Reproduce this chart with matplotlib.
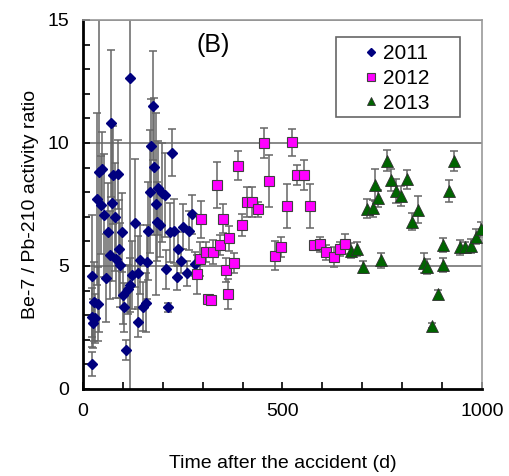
import matplotlib.pyplot as plt
from matplotlib.patches import Rectangle
import numpy as np

plt.rcParams['font.family'] = ['Liberation Sans', 'DejaVu Sans']

# 2011 data (days after accident, ratio, error)
x2011 = [22, 22, 22, 24, 28, 30, 34, 38, 41, 44, 48, 53, 58, 63, 68, 69, 74, 76, 80, 83,
         89, 91, 94, 98, 101, 104, 109, 112, 118, 118, 122, 130, 137, 139, 143, 150, 158, 160, 164, 168,
         170, 175, 178, 183, 186, 189, 193, 197, 206, 207, 214, 218, 223, 229, 235, 238, 245, 251, 260, 266,
         274, 281]
y2011 = [1.02, 4.59, 2.91, 2.67, 3.55, 2.87, 7.71, 3.45, 8.81, 7.48, 8.94, 7.07, 4.5, 6.38, 5.45, 10.8, 7.57, 8.7, 6.98, 5.3,
         8.73, 5.68, 5.05, 6.36, 3.82, 3.32, 1.59, 4.05, 4.23, 12.63, 4.63, 6.75, 2.72, 4.73, 5.25, 3.35, 3.51, 5.15, 6.43, 8.02,
         9.88, 11.52, 9.04, 7.5, 6.8, 8.16, 6.67, 7.98, 7.89, 4.86, 3.31, 6.37, 9.61, 6.43, 4.54, 5.68, 5.2, 6.6, 4.7, 6.43,
         7.1, 5.08]
e2011 = [0.5, 2.5, 1.2, 1.0, 1.6, 1.0, 3.5, 1.5, 6.5, 2.0, 1.5, 2.5, 1.8, 2.0, 1.8, 3.0, 3.2, 2.0, 2.2, 1.6,
         1.4, 2.0, 1.7, 1.6, 1.2, 1.0, 0.4, 1.0, 1.1, 13.0, 1.4, 2.6, 0.6, 1.5, 1.4, 1.0, 1.2, 1.5, 2.0, 2.5,
         1.9, 2.2, 2.8, 3.7, 1.6, 1.9, 1.3, 2.0, 1.7, 0.8, 0.2, 1.2, 0.95, 1.3, 0.5, 0.7, 0.5, 0.9, 0.5, 0.8,
         0.8, 0.5]

# 2012 data
x2012 = [287, 293, 297, 308, 314, 321, 327, 335, 343, 350, 358, 363, 367, 378, 389, 399, 410, 424, 439, 454,
         467, 482, 496, 511, 524, 537, 554, 569, 580, 594, 609, 629, 644, 657]
y2012 = [4.66, 5.28, 6.9, 5.56, 3.67, 3.63, 5.56, 8.29, 5.85, 6.92, 4.84, 3.85, 6.12, 5.11, 9.08, 6.67, 7.59, 7.59, 7.3, 9.99,
         8.46, 5.42, 5.78, 7.44, 10.03, 8.7, 8.7, 7.44, 5.85, 5.88, 5.56, 5.35, 5.69, 5.89]
e2012 = [0.8, 0.7, 0.75, 0.4, 0.15, 0.15, 0.5, 0.92, 0.4, 0.6, 0.5, 0.6, 0.5, 0.4, 0.6, 0.45, 0.6, 0.6, 0.3, 0.6,
         1.05, 0.6, 0.4, 0.9, 0.55, 0.4, 0.6, 0.9, 0.15, 0.3, 0.3, 0.4, 0.3, 0.4]

# 2013 data
x2013 = [671, 686, 701, 713, 727, 732, 740, 748, 761, 772, 784, 797, 811, 825, 840, 855, 863, 875, 889, 902,
         902, 917, 931, 945, 957, 972, 986, 998]
y2013 = [5.62, 5.69, 4.96, 7.33, 7.34, 8.29, 7.75, 5.23, 9.28, 8.51, 8.04, 7.84, 8.52, 6.8, 7.28, 5.11, 4.97, 2.56, 3.86, 5.85,
         5.04, 8.06, 9.28, 5.76, 5.76, 5.81, 6.19, 6.49]
e2013 = [0.3, 0.3, 0.25, 0.4, 0.35, 0.64, 0.35, 0.3, 0.42, 0.45, 0.5, 0.4, 0.4, 0.35, 0.55, 0.4, 0.3, 0.1, 0.15, 0.3,
         0.3, 0.45, 0.4, 0.3, 0.2, 0.3, 0.3, 0.3]

fig = plt.figure(figsize=(5.09, 4.76), dpi=100)
ax = fig.add_axes([0.163, 0.183, 0.784, 0.775])

# gridlines
for g in [5, 10, 15]:
    ax.axhline(g, color='0.45', lw=1.2, zorder=0)

eb = dict(fmt='none', ecolor='0.4', elinewidth=1.1, capsize=3, capthick=1.1, zorder=1)
ax.errorbar(x2011, y2011, yerr=e2011, **eb)
ax.errorbar(x2012, y2012, yerr=e2012, **eb)
ax.errorbar(x2013, y2013, yerr=e2013, **eb)

ax.plot(x2011, y2011, 'D', color='#00007f', ms=5.5, mec='#00007f', ls='none', label='2011', zorder=3)
ax.plot(x2012, y2012, 's', color='#ff00ff', ms=7.5, mec='#404040', mew=0.8, ls='none', label='2012', zorder=3)
ax.plot(x2013, y2013, '^', color='#006400', ms=8, mec='#303030', mew=0.6, ls='none', label='2013', zorder=3)

ax.set_xlim(0, 1000)
ax.set_ylim(0, 15)
ax.set_xticks([0, 500, 1000])
ax.set_yticks([0, 5, 10, 15])
ax.set_xticks(np.arange(0, 1001, 100), minor=True)
ax.set_yticks(np.arange(0, 16, 1), minor=True)
ax.tick_params(which='both', direction='in', length=5, width=1.2, labelsize=14)
ax.tick_params(axis='x', pad=10)
ax.tick_params(axis='y', pad=10)

for s in ['left', 'bottom']:
    ax.spines[s].set_linewidth(2)
    ax.spines[s].set_color('black')
for s in ['top', 'right']:
    ax.spines[s].set_linewidth(1.2)
    ax.spines[s].set_color('0.6')

ax.set_xlabel('Time after the accident (d)', fontsize=14, labelpad=25)
ax.set_ylabel('Be-7 / Pb-210 activity ratio', fontsize=14, labelpad=6)

ax.text(326, 14.0, '(B)', fontsize=18, ha='center', va='center')

# legend without frame, frame drawn as rectangle
leg = ax.legend(loc='upper left', bbox_to_anchor=(0.655, 0.98), fontsize=15, markerscale=0.7,
                frameon=False, handlelength=1.0, handletextpad=0.05,
                labelspacing=0.28, borderpad=0.3)
ax.add_patch(Rectangle((0.633, 0.737), 0.313, 0.217, transform=ax.transAxes,
                       fill=False, edgecolor='0.4', lw=1.2, zorder=5))

fig.savefig('out.png', dpi=100)
